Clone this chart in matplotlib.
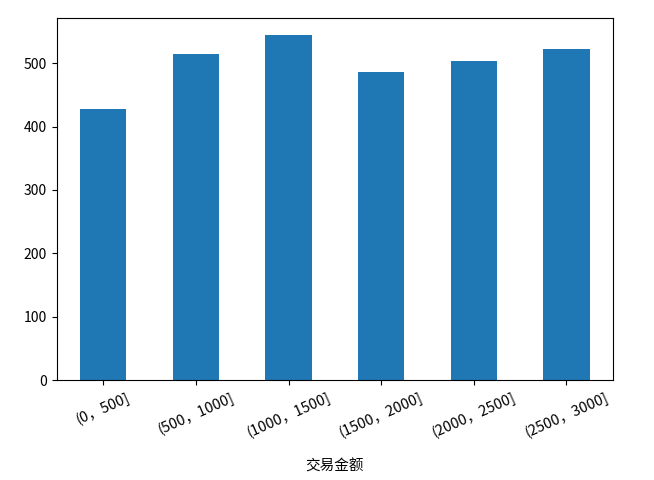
import matplotlib
matplotlib.use("Agg")
import matplotlib.pyplot as plt

plt.rcParams['font.family'] = ['Noto Sans CJK SC', 'DejaVu Sans']
plt.rcParams['axes.unicode_minus'] = False

# 交易金额区间及其数量
categories = ["(0，500]", "(500，1000]", "(1000，1500]",
              "(1500，2000]", "(2000，2500]", "(2500，3000]"]
counts = [427, 514, 544, 486, 503, 522]

fig, ax = plt.subplots(figsize=(6.54, 4.8), dpi=100)
fig.subplots_adjust(left=0.087, right=0.937, top=0.9625, bottom=0.2083)

ax.bar(range(len(categories)), counts, width=0.5, color="#1f77b4")
ax.set_xticks(range(len(categories)))
ax.set_xticklabels(categories, rotation=24, fontsize=10.5)
ax.set_xlim(-0.5, len(categories) - 0.5)
ax.set_xlabel("交易金额", fontsize=10.5, labelpad=14)

fig.savefig("out.png")
